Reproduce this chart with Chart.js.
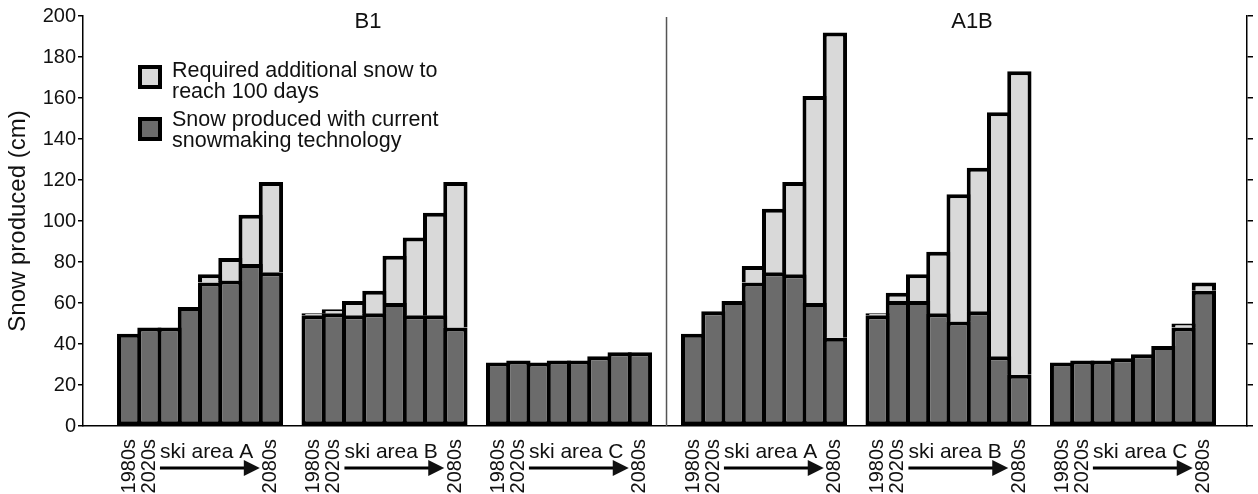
<!DOCTYPE html>
<html>
<head>
<meta charset="utf-8">
<script src="https://cdn.jsdelivr.net/npm/chart.js@4.4.0/dist/chart.umd.min.js"></script>
<style>
  html, body { margin: 0; padding: 0; background: #fff; }
  #wrap { width: 1258px; height: 494px; }
</style>
</head>
<body>
<div id="wrap"><canvas id="snowChart" width="1258" height="494"></canvas></div>
<script>
const periods = ['1980s', '2020s', '2030s', '2040s', '2050s', '2060s', '2070s', '2080s'];
const shownPeriods = ['1980s', '2020s', '2080s'];
const scenarios = ['B1', 'A1B'];
const skiAreas = ['ski area A', 'ski area B', 'ski area C'];

// snow produced with current snowmaking technology (cm)
const producedB1A = [45, 48, 48, 58, 70, 71, 79, 75];
const producedB1B = [54, 55, 54, 55, 60, 54, 54, 48];
const producedB1C = [31, 32, 31, 32, 32, 34, 36, 36];
const producedA1BA = [45, 56, 61, 70, 75, 74, 60, 43];
const producedA1BB = [54, 61, 61, 55, 51, 56, 34, 25];
const producedA1BC = [31, 32, 32, 33, 35, 39, 48, 66];

// additional snow required to reach 100 days (cm)
const extraB1A = [0, 0, 0, 0, 4, 11, 24, 44];
const extraB1B = [1, 2, 7, 11, 23, 38, 50, 71];
const extraB1C = [0, 0, 0, 0, 0, 0, 0, 0];
const extraA1BA = [0, 0, 0, 8, 31, 45, 101, 149];
const extraA1BB = [1, 4, 13, 30, 62, 70, 119, 148];
const extraA1BC = [0, 0, 0, 0, 0, 0, 2, 4];

const yTicks = [0, 20, 40, 60, 80, 100, 120, 140, 160, 180, 200];

const DARK = '#6b6b6b';
const LIGHT = '#d9d9d9';
const FONT = '"Liberation Sans", Arial, Helvetica, sans-serif';

// x axis in bar units: 6 groups of 8 bars, extra gap between the two scenarios
const GROUP_START = 1.78;
const GROUP_STEP = 9.11;
const SCENARIO_GAP = 0.52;
const X_MAX = 57.48;

const producedGroups = [producedB1A, producedB1B, producedB1C, producedA1BA, producedA1BB, producedA1BC];
const extraGroups = [extraB1A, extraB1B, extraB1C, extraA1BA, extraA1BB, extraA1BC];

function groupStart(g) {
  return GROUP_START + g * GROUP_STEP + (g >= 3 ? SCENARIO_GAP : 0);
}

function toPoints(groups) {
  const pts = [];
  groups.forEach((vals, g) => {
    vals.forEach((v, i) => pts.push({ x: groupStart(g) + i + 0.5, y: v }));
  });
  return pts;
}

// tick positions: 1980s, 2020s and 2080s of every group
const tickValues = [];
const tickText = [];
for (let g = 0; g < 6; g++) {
  shownPeriods.forEach(p => {
    tickValues.push(groupStart(g) + periods.indexOf(p) + 0.5);
    tickText.push(p);
  });
}

const decorations = {
  id: 'decorations',
  afterDraw(chart) {
    const ctx = chart.ctx;
    const xs = chart.scales.x;
    const ys = chart.scales.y;
    ctx.save();

    // divider between scenarios
    const divX = xs.getPixelForValue((groupStart(2) + 8 + groupStart(3)) / 2);
    ctx.strokeStyle = '#555';
    ctx.lineWidth = 1.5;
    ctx.beginPath();
    ctx.moveTo(divX, ys.getPixelForValue(199.5));
    ctx.lineTo(divX, ys.bottom);
    ctx.stroke();

    // scenario titles
    ctx.fillStyle = '#111';
    ctx.font = '22px ' + FONT;
    ctx.textAlign = 'center';
    ctx.textBaseline = 'middle';
    ctx.fillText(scenarios[0], xs.getPixelForValue(14.07), 22);
    ctx.fillText(scenarios[1], xs.getPixelForValue(43.9), 22);

    // ski area labels with arrows
    ctx.font = '21px ' + FONT;
    ctx.textAlign = 'left';
    ctx.textBaseline = 'alphabetic';
    for (let g = 0; g < 6; g++) {
      const x1 = xs.getPixelForValue(groupStart(g) + 2.02);
      const x2 = xs.getPixelForValue(groupStart(g) + 6.95);
      ctx.fillText(skiAreas[g % 3], x1, 458);
      ctx.strokeStyle = '#000';
      ctx.lineWidth = 3;
      ctx.beginPath();
      ctx.moveTo(x1, 468);
      ctx.lineTo(x2 - 12, 468);
      ctx.stroke();
      ctx.beginPath();
      ctx.moveTo(x2 - 16, 460);
      ctx.lineTo(x2, 468);
      ctx.lineTo(x2 - 16, 476);
      ctx.closePath();
      ctx.fill();
    }

    // legend
    const items = [chart.data.datasets[1], chart.data.datasets[0]];
    const boxY = [67, 119];
    const textY = [[77, 98], [126, 147]];
    ctx.font = '21.5px ' + FONT;
    items.forEach((ds, k) => {
      ctx.fillStyle = ds.backgroundColor;
      ctx.fillRect(140, boxY[k], 20, 20);
      ctx.strokeStyle = '#000';
      ctx.lineWidth = 4;
      ctx.strokeRect(140, boxY[k], 20, 20);
      ctx.fillStyle = '#111';
      ds.legendLines.forEach((line, j) => ctx.fillText(line, 172, textY[k][j]));
    });

    ctx.restore();
  }
};

new Chart(document.getElementById('snowChart'), {
  type: 'bar',
  data: {
    datasets: [{
      label: 'Snow produced with current snowmaking technology',
      legendLines: ['Snow produced with current', 'snowmaking technology'],
      data: toPoints(producedGroups),
      backgroundColor: DARK,
      borderColor: '#000',
      borderWidth: 4,
      borderSkipped: false,
      categoryPercentage: 1,
      barPercentage: 1.2
    }, {
      label: 'Required additional snow to reach 100 days',
      legendLines: ['Required additional snow to', 'reach 100 days'],
      data: toPoints(extraGroups),
      backgroundColor: LIGHT,
      borderColor: '#000',
      borderWidth: 4,
      borderSkipped: 'bottom',
      categoryPercentage: 1,
      barPercentage: 1.2
    }]
  },
  options: {
    responsive: false,
    animation: false,
    devicePixelRatio: 1,
    layout: { padding: { top: 16, left: 0, right: 0, bottom: 0 } },
    plugins: {
      legend: { display: false },
      tooltip: { enabled: false }
    },
    scales: {
      x: {
        type: 'linear',
        min: 0,
        max: X_MAX,
        offset: false,
        stacked: true,
        grid: { display: false, offset: false },
        border: { display: true, color: '#000', width: 1.5 },
        afterBuildTicks: s => { s.ticks = tickValues.map(v => ({ value: v })); },
        afterFit: s => { s.height = 68; },
        ticks: {
          autoSkip: false,
          minRotation: 90,
          maxRotation: 90,
          padding: 5,
          color: '#111',
          font: { family: FONT, size: 20 },
          callback: (v, i) => tickText[i]
        }
      },
      y: {
        stacked: true,
        min: 0,
        max: 200,
        afterBuildTicks: s => { s.ticks = yTicks.map(v => ({ value: v })); },
        afterFit: s => { s.width = 83; },
        grid: { display: true, drawOnChartArea: false, drawTicks: true, tickLength: 5, color: '#000', lineWidth: 1.5 },
        border: { display: true, color: '#000', width: 1.5 },
        ticks: { padding: 2, color: '#111', font: { family: FONT, size: 20 } },
        title: {
          display: true,
          text: 'Snow produced (cm)',
          color: '#111',
          font: { family: FONT, size: 24 },
          padding: { top: 4, bottom: 0 }
        }
      },
      y2: {
        position: 'right',
        min: 0,
        max: 200,
        afterBuildTicks: s => { s.ticks = yTicks.map(v => ({ value: v })); },
        afterFit: s => { s.width = 11; },
        grid: { display: true, drawOnChartArea: false, drawTicks: true, tickLength: 6, color: '#000', lineWidth: 1.5 },
        border: { display: true, color: '#000', width: 1.5 },
        ticks: { display: false }
      }
    }
  },
  plugins: [decorations]
});
</script>
</body>
</html>
